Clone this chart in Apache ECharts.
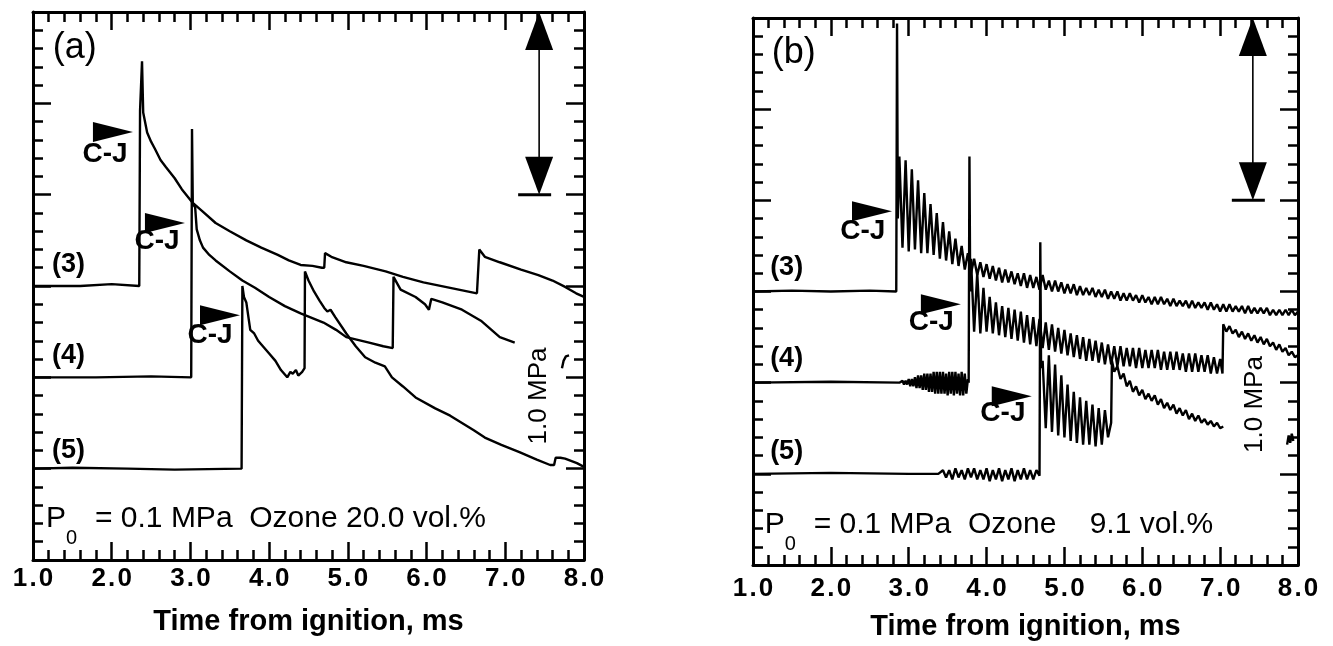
<!DOCTYPE html>
<html><head><meta charset="utf-8">
<script src="https://cdn.jsdelivr.net/npm/echarts@6/dist/echarts.min.js"></script>
<style>html,body{margin:0;padding:0;background:#fff}#c{width:1333px;height:646px}</style>
</head><body><div id="c"></div>
<script>
// ---------------- data ----------------
const xTickLabels = ['1.0','2.0','3.0','4.0','5.0','6.0','7.0','8.0'];
const axisTitle = 'Time from ignition, ms';
const panelNames = ['(a)','(b)'];
const traceNames = ['(3)','(4)','(5)'];
const conditionTexts = ['= 0.1 MPa  Ozone 20.0 vol.%', '= 0.1 MPa  Ozone    9.1 vol.%'];
const scaleText = '1.0 MPa';
const cjText = 'C-J';

// panel (a) traces: [time ms, pressure MPa (offset)]
const trace3a = [[1.00,1.50],[1.60,1.50],[2.00,1.51],[2.35,1.50],[2.355,1.50],[2.36,2.46],[2.385,2.73],[2.40,2.45],[2.42,2.44],[2.45,2.34],[2.50,2.29],[2.55,2.25],[2.62,2.19],[2.69,2.15],[2.80,2.09],[2.89,2.03],[3.03,1.955],[3.15,1.91],[3.32,1.845],[3.50,1.80],[3.71,1.75],[3.90,1.71],[4.11,1.67],[4.25,1.64],[4.40,1.615],[4.55,1.61],[4.67,1.60],[4.70,1.60],[4.71,1.68],[4.79,1.66],[4.98,1.63],[5.20,1.61],[5.48,1.58],[5.70,1.55],[5.96,1.52],[6.30,1.49],[6.64,1.46],[6.66,1.46],[6.67,1.70],[6.74,1.66],[6.93,1.63],[7.20,1.59],[7.42,1.56],[7.60,1.53],[7.76,1.495],[7.90,1.46],[8.00,1.44]];
const trace4a = [[1.00,1.00],[1.80,1.00],[2.50,1.005],[3.01,1.00],[3.02,2.36],[3.03,1.95],[3.06,1.93],[3.08,1.81],[3.12,1.75],[3.16,1.71],[3.24,1.67],[3.32,1.64],[3.50,1.58],[3.66,1.53],[3.82,1.49],[4.00,1.44],[4.20,1.39],[4.40,1.35],[4.69,1.30],[4.85,1.26],[4.98,1.22],[5.27,1.19],[5.45,1.17],[5.57,1.16],[5.58,1.55],[5.67,1.48],[5.86,1.44],[5.98,1.40],[6.03,1.37],[6.06,1.43],[6.08,1.43],[6.20,1.41],[6.45,1.37],[6.69,1.31],[6.93,1.22],[7.12,1.19]];
const trace5a = [[1.00,0.50],[1.50,0.505],[2.20,0.50],[2.80,0.495],[3.65,0.50],[3.66,1.50],[3.68,1.44],[3.71,1.41],[3.76,1.26],[3.81,1.24],[3.86,1.20],[4.00,1.13],[4.08,1.09],[4.15,1.04],[4.23,1.00],[4.27,1.03],[4.30,1.02],[4.34,1.04],[4.37,1.01],[4.42,1.03],[4.45,1.05],[4.455,1.58],[4.50,1.53],[4.57,1.47],[4.64,1.42],[4.70,1.38],[4.74,1.36],[4.78,1.37],[4.84,1.33],[4.98,1.24],[5.10,1.17],[5.22,1.11],[5.35,1.08],[5.47,1.06],[5.56,1.00],[5.70,0.95],[5.86,0.89],[6.11,0.83],[6.30,0.79],[6.45,0.75],[6.60,0.71],[6.74,0.67],[6.95,0.63],[7.18,0.59],[7.40,0.55],[7.57,0.52],[7.62,0.52],[7.64,0.56],[7.70,0.56],[7.76,0.555],[7.91,0.53],[8.00,0.51]];
const fragment4a = [[7.72,1.05],[7.74,1.09],[7.77,1.115],[7.81,1.12]];

// panel (b) traces: explicit points plus uniformly sampled records (start time, sample step, values)
const trace3bHead = [[1.00,1.50],[1.50,1.505],[2.00,1.50],[2.50,1.505],[2.84,1.50],[2.85,2.97],[2.86,1.90]];
const trace3bOsc = {t0:2.88, dt:0.04, v:[2.24,1.74,2.22,1.72,2.17,1.73,2.11,1.71,2.04,1.71,1.98,1.70,1.93,1.68,1.88,1.67,1.83,1.65,1.79,1.64,1.75,1.62,1.71,1.60,1.68,1.59,1.66,1.58,1.65,1.57,1.64,1.56,1.63,1.55,1.62,1.55,1.61,1.54,1.60,1.53,1.60,1.52,1.59,1.52,1.58,1.51,1.59,1.51,1.56,1.50,1.56,1.50,1.55,1.49,1.54,1.49,1.54,1.48,1.53,1.48,1.52,1.48,1.52,1.47,1.51,1.47,1.51,1.46,1.50,1.46,1.50,1.45,1.49,1.45,1.49,1.45,1.48,1.44,1.48,1.44,1.47,1.43,1.47,1.43,1.47,1.43,1.46,1.42,1.46,1.42,1.45,1.42,1.45,1.41,1.45,1.41,1.44,1.41,1.44,1.40,1.44,1.40,1.43,1.39,1.43,1.39,1.43,1.39,1.42,1.39,1.42,1.38,1.42,1.38,1.41,1.38,1.41,1.38,1.41,1.37,1.40,1.37,1.40,1.37,1.40,1.37,1.40,1.37,1.39]};

const trace4bHead = [[1.00,1.00],[2.00,1.005],[2.88,1.00]];
const trace4bNoise = {t0:2.90, dt:0.02, v:[1.00,1.01,0.99,1.01,0.99,1.02,0.98,1.02,0.98,1.03,0.97,1.04,0.97,1.04,0.96,1.05,0.96,1.05,0.95,1.05,0.95,1.06,0.94,1.06,0.94,1.06,0.94,1.06,0.94,1.05,0.93,1.06,0.94,1.06,0.93,1.06,0.94,1.05,0.93,1.06,0.93,1.05,0.94,1.02]};
const trace4bJump = [[3.77,1.00],[3.78,2.24],[3.79,1.50]];
const trace4bOsc = {t0:3.80, dt:0.04, v:[1.68,1.28,1.60,1.27,1.52,1.28,1.47,1.27,1.44,1.26,1.42,1.25,1.41,1.24,1.40,1.23,1.39,1.22,1.37,1.21,1.36,1.20,1.35,1.19,1.33,1.18,1.32,1.17,1.30,1.16,1.29,1.15,1.27,1.14,1.26,1.13,1.25,1.12,1.24,1.12,1.23,1.11,1.22,1.10,1.21,1.10,1.20,1.09,1.20,1.09,1.19,1.09,1.19,1.08,1.19,1.08,1.18,1.08,1.18,1.08,1.18,1.07,1.17,1.07,1.17,1.07,1.17,1.07,1.16,1.06,1.16,1.06,1.16,1.06,1.15,1.06,1.15,1.05,1.14,1.05,1.13]};
const trace4bStep = [[7.03,1.05],[7.04,1.32]];
const trace4bTail = {t0:7.08, dt:0.04, v:[1.28,1.31,1.27,1.29,1.25,1.28,1.24,1.27,1.23,1.26,1.22,1.25,1.21,1.24,1.20,1.22,1.18,1.21,1.17,1.19,1.15,1.17,1.14,1.15]};

const trace5bHead = [[1.00,0.50],[2.00,0.505],[3.00,0.50],[3.38,0.50]];
const trace5bNoise = {t0:3.40, dt:0.04, v:[0.50,0.52,0.48,0.52,0.47,0.53,0.48,0.52,0.47,0.53,0.48,0.53,0.47,0.52,0.47,0.53,0.46,0.52,0.47,0.53,0.46,0.52,0.47,0.53,0.46,0.52,0.47,0.53,0.47,0.52,0.47,0.52]};
const trace5bJump1 = [[4.68,0.49],[4.69,1.77],[4.70,1.08]];
const trace5bOsc1 = {t0:4.72, dt:0.04, v:[1.12,0.75,1.15,0.73,1.10,0.71,1.04,0.70,0.99,0.68,0.95,0.67,0.92,0.66,0.90,0.66,0.88,0.65,0.86,0.66,0.85,0.70]};
const trace5bJump2 = [[5.60,0.78],[5.61,1.12]];
const trace5bOsc2 = {t0:5.64, dt:0.04, v:[1.06,1.09,1.02,1.05,0.98,1.01,0.95,0.98,0.93,0.96,0.91,0.94,0.90,0.93,0.88,0.91,0.86,0.89,0.85,0.88,0.83,0.86,0.82,0.85,0.80,0.83,0.79,0.82,0.78,0.80,0.77,0.79,0.76,0.78,0.75,0.76]};
const fragment5b = [[7.86,0.66],[7.88,0.71],[7.90,0.67],[7.92,0.72],[7.94,0.68]];

// annotation anchors, in data units [time, pressure]
const cjTips = [[[2.27,2.343],[2.93,1.845],[3.63,1.34]], [[2.785,1.94],[3.67,1.43],[4.58,0.925]]];
const cjLabelPos = [[[1.915,2.22],[2.575,1.746],[3.25,1.232]], [[2.41,1.83],[3.29,1.33],[4.21,0.83]]];
const scaleBar = [[7.43,3.0,2.0],[7.42,3.0,2.0]];      // [time, top, bottom] = 1.0 MPa
const scaleTextPos = [[7.42,0.898],[7.45,0.88]];
const panelLabelPos = [[1.25,2.80],[1.24,2.81]];
const traceLabelPos = [[[1.24,1.615],[1.24,1.117],[1.24,0.60]], [[1.22,1.63],[1.22,1.13],[1.22,0.62]]];
const conditionPos = [[1.165,0.225],[1.15,0.22]];

// ---------------- build ----------------
function sampled(rec){ return rec.v.map((v,i)=>[+(rec.t0 + i*rec.dt).toFixed(3), v]); }
const trace3b = trace3bHead.concat(sampled(trace3bOsc));
const trace4b = trace4bHead.concat(sampled(trace4bNoise), trace4bJump, sampled(trace4bOsc), trace4bStep, sampled(trace4bTail));
const trace5b = trace5bHead.concat(sampled(trace5bNoise), trace5bJump1, sampled(trace5bOsc1), trace5bJump2, sampled(trace5bOsc2));
const tracesByPanel = [[trace3a,trace4a,trace5a],[trace3b,trace4b,trace5b]];
const fragmentsByPanel = [fragment4a, fragment5b];

const FONT = '"Liberation Sans", Arial, Helvetica, sans-serif';
const grids = [
  {left:33, top:12, width:551, height:548},
  {left:753, top:18, width:545, height:548}
];
const labelMargins = [6, 11];

const tickStyle = {color:'#000', width:2.5};
function xAx(g, pos){
  const main = pos === 'bottom';
  return {
    gridIndex:g, type:'value', min:1, max:8, interval:1, position:pos,
    axisLine:{show:true, onZero:false, lineStyle:{color:'#000', width:3}},
    axisTick:{show:true, inside:true, length:18, lineStyle:tickStyle},
    minorTick:{show:true, splitNumber:5, length:10, lineStyle:tickStyle},
    splitLine:{show:false}, minorSplitLine:{show:false},
    axisLabel: main ? {show:true, margin:labelMargins[g], color:'#000', fontSize:26, fontWeight:'bold', fontFamily:FONT,
      showMinLabel:true, showMaxLabel:true,
      formatter:(v)=>{ const s = xTickLabels[Math.round(v)-1] || ''; return s.split('').join('\u200A'); }} : {show:false},
    name: main ? axisTitle : '', nameLocation:'middle', nameGap:47,
    nameTextStyle:{color:'#000', fontSize:29, fontWeight:'bold', fontFamily:FONT}
  };
}
function yAx(g, pos){
  return {
    gridIndex:g, type:'value', min:0, max:3, interval:0.5, position:pos,
    axisLine:{show:true, onZero:false, lineStyle:{color:'#000', width:3}},
    axisTick:{show:true, inside:true, length:18, lineStyle:tickStyle},
    minorTick:{show:true, splitNumber:5, length:10, lineStyle:tickStyle},
    splitLine:{show:false}, minorSplitLine:{show:false},
    axisLabel:{show:false}
  };
}
const xAxes = [xAx(0,'bottom'), xAx(0,'top'), xAx(1,'bottom'), xAx(1,'top')];
const yAxes = [yAx(0,'left'), yAx(0,'right'), yAx(1,'left'), yAx(1,'right')];

function txt(x, y, text, font, align, valign, rotation){
  return {type:'text', x:x, y:y, rotation: rotation || 0,
    style:{text:text, font:font, fill:'#000', textFill:'#000', align:align, textAlign:align, verticalAlign:valign, textVerticalAlign:valign}};
}

const series = [];
for (let k = 0; k < 2; k++) {
  const axes = {xAxisIndex:2*k, yAxisIndex:2*k};
  tracesByPanel[k].forEach((d, i) => {
    series.push(Object.assign({type:'line', name:traceNames[i] + ' ' + panelNames[k], data:d, showSymbol:false, symbol:'none',
      lineStyle:{color:'#000', width:2.4}, animation:false, silent:true}, axes));
  });
  series.push(Object.assign({type:'line', name:'fragment ' + panelNames[k], data:fragmentsByPanel[k], showSymbol:false, symbol:'none',
    lineStyle:{color:'#000', width:2.4}, animation:false, silent:true}, axes));
  // C-J arrow heads
  series.push(Object.assign({type:'custom', clip:false, silent:true, data:cjTips[k],
    renderItem:(params, api)=>{
      const p = api.coord([api.value(0), api.value(1)]);
      return {type:'polygon', shape:{points:[[p[0],p[1]],[p[0]-40,p[1]-10],[p[0]-40,p[1]+10]]}, style:{fill:'#000'}};
    }}, axes));
  // C-J labels
  series.push(Object.assign({type:'custom', clip:false, silent:true, data:cjLabelPos[k],
    renderItem:(params, api)=>{
      const p = api.coord([api.value(0), api.value(1)]);
      return txt(p[0], p[1], cjText, 'bold 28px ' + FONT, 'center', 'middle');
    }}, axes));
  // 1.0 MPa double arrow
  series.push(Object.assign({type:'custom', clip:false, silent:true, data:[scaleBar[k]],
    renderItem:(params, api)=>{
      const a = api.coord([api.value(0), api.value(1)]);
      const b = api.coord([api.value(0), api.value(2)]);
      const x = a[0], hw = 14, hh = 38;
      return {type:'group', children:[
        {type:'line', shape:{x1:x, y1:a[1]+hh-2, x2:x, y2:b[1]-hh+2}, style:{stroke:'#000', lineWidth:1.6}},
        {type:'polygon', shape:{points:[[x,a[1]],[x-hw,a[1]+hh],[x+hw,a[1]+hh]]}, style:{fill:'#000'}},
        {type:'polygon', shape:{points:[[x,b[1]],[x-hw,b[1]-hh],[x+hw,b[1]-hh]]}, style:{fill:'#000'}},
        {type:'line', shape:{x1:x-21, y1:b[1], x2:x+12, y2:b[1]}, style:{stroke:'#000', lineWidth:3}}
      ]};
    }}, axes));
  // 1.0 MPa label (vertical)
  series.push(Object.assign({type:'custom', clip:false, silent:true, data:[scaleTextPos[k]],
    renderItem:(params, api)=>{
      const p = api.coord([api.value(0), api.value(1)]);
      return txt(p[0], p[1], scaleText, '26px ' + FONT, 'center', 'middle', Math.PI/2);
    }}, axes));
  // trace labels (3)(4)(5)
  series.push(Object.assign({type:'custom', clip:false, silent:true, data:traceLabelPos[k],
    renderItem:(params, api)=>{
      const p = api.coord([api.value(0), api.value(1)]);
      return txt(p[0], p[1], traceNames[params.dataIndex], 'bold 27px ' + FONT, 'left', 'middle');
    }}, axes));
  // panel label
  series.push(Object.assign({type:'custom', clip:false, silent:true, data:[panelLabelPos[k]],
    renderItem:(params, api)=>{
      const p = api.coord([api.value(0), api.value(1)]);
      return txt(p[0], p[1], panelNames[k], '36px ' + FONT, 'left', 'middle');
    }}, axes));
  // condition text with subscript
  series.push(Object.assign({type:'custom', clip:false, silent:true, data:[conditionPos[k]],
    renderItem:(params, api)=>{
      const p = api.coord([api.value(0), api.value(1)]);
      return {type:'group', children:[
        txt(p[0], p[1], 'P', '30px ' + FONT, 'left', 'middle'),
        txt(p[0]+20, p[1]+20, '0', '20px ' + FONT, 'left', 'middle'),
        txt(p[0]+49, p[1], conditionTexts[k], '30px ' + FONT, 'left', 'middle')
      ]};
    }}, axes));
}

const chart = echarts.init(document.getElementById('c'), null, {renderer:'canvas'});
chart.setOption({
  animation:false,
  backgroundColor:'#fff',
  grid: grids,
  xAxis: xAxes,
  yAxis: yAxes,
  series: series
});
</script></body></html>
